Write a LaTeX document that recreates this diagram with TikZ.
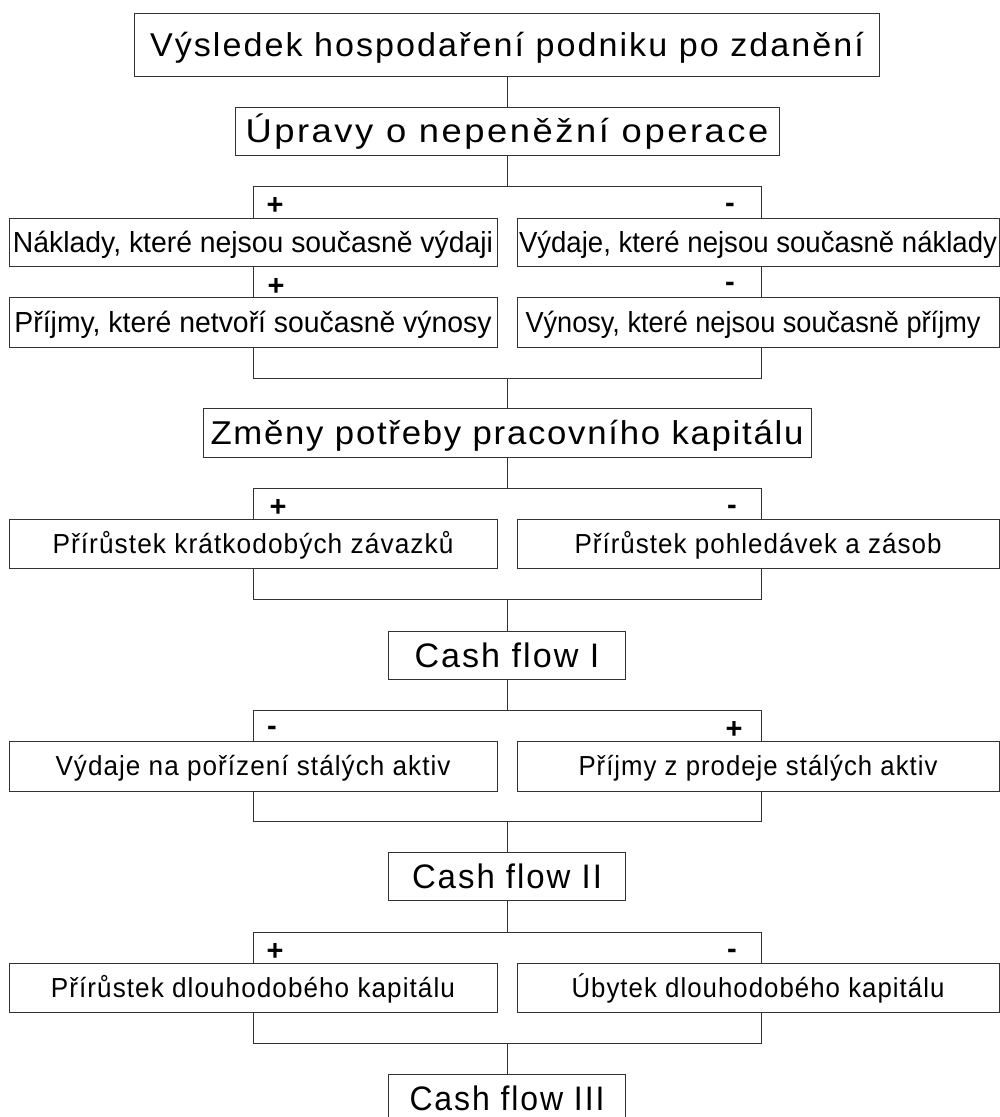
\documentclass[tikz,border=0pt]{standalone}
\usepackage{fontspec}
\usepackage{graphicx}
\setmainfont{Liberation Sans}
\newlength\natw
% letter-space (#2, per cent of em) then stretch horizontally to width #1 (px)
\newcommand\fitx[3]{{\addfontfeature{LetterSpace=#2}\settowidth\natw{#3}%
  \pgfmathsetmacro\fac{#1/\natw}\scalebox{\fac}[1]{#3}}}
\tikzset{
  linecol/.style={draw=black!80, line width=1pt},
  bigbox/.style={linecol, fill=white, inner sep=0pt, text=black,
    font=\fontsize{33}{40}\selectfont, text height=29.6pt, text depth=6pt},
  smallbox/.style={linecol, fill=white, inner sep=0pt, text=black,
    font=\fontsize{27.5}{32}\selectfont, text height=24.4pt, text depth=4.7pt,
    minimum height=49pt},
  firstbox/.style={smallbox, font=\fontsize{29}{34}\selectfont,
    text height=25.5pt, text depth=4.7pt},
  leftbox/.style={minimum width=488pt},
  rightbox/.style={minimum width=482pt},
  bracket/.style={linecol, inner sep=0pt, minimum width=508pt},
  cfbox/.style={bigbox, font=\fontsize{34}{40}\selectfont, text height=30.3pt,
    text depth=6pt, minimum width=237pt, minimum height=48pt},
  sign/.style={inner sep=0pt, anchor=base, text=black, font=\fontsize{29}{34}\selectfont\bfseries},
  link/.style={linecol}
}
\begin{document}
\begin{tikzpicture}[x=1pt,y=-1pt]
\fill[white] (0,0) rectangle (1000,1117);
\useasboundingbox (0,0) rectangle (1000,1117);

% bracket frames
\node[bracket, minimum height=192pt] (br1) at (507,282) {};
\node[bracket, minimum height=111pt] (br2) at (507,543.5) {};
\node[bracket, minimum height=111pt] (br3) at (507,765.5) {};
\node[bracket, minimum height=111pt] (br4) at (507,987.5) {};

% main column
\node[bigbox, minimum width=745pt, minimum height=63pt] (top) at (507,44.5)
  {\fitx{714}{6}{Výsledek hospodaření podniku po zdanění}};
\node[bigbox, minimum width=544pt, minimum height=48pt] (up) at (507,131)
  {\fitx{523}{7}{Úpravy o nepeněžní operace}};
\node[bigbox, minimum width=608pt, minimum height=49pt] (zm) at (507,432.5)
  {\fitx{593}{5}{Změny potřeby pracovního kapitálu}};
\node[cfbox] (cf1) at (507,655) {\fitx{185}{6}{Cash flow I}};
\node[cfbox] (cf2) at (507,876.5) {\fitx{190}{6}{Cash flow II}};
\node[cfbox] (cf3) at (507,1098) {\fitx{195}{6}{Cash flow III}};

% group 1
\node[firstbox, leftbox, minimum height=48pt] (n1) at (253,242)
  {\fitx{480}{0}{Náklady, které nejsou současně výdaji}};
\node[firstbox, leftbox, minimum height=50pt] (n2) at (253,322)
  {\fitx{477}{0}{Příjmy, které netvoří současně výnosy}};
\node[firstbox, rightbox, minimum height=48pt] (v1) at (758,242)
  {\fitx{478}{0}{Výdaje, které nejsou současně náklady}};
\node[firstbox, rightbox, minimum height=50pt] (v2) at (758,322)
  {\hspace*{-10pt}\fitx{455}{0}{Výnosy, které nejsou současně příjmy}};
\node[sign] (s1a) at (275,214) {+};
\node[sign] (s1b) at (276,295) {+};
\node[sign] (s1c) at (730,212) {-};
\node[sign] (s1d) at (730,291) {-};

% group 2
\node[smallbox, leftbox] (p2l) at (253,543.5) {\fitx{401}{4}{Přírůstek krátkodobých závazků}};
\node[smallbox, rightbox] (p2r) at (758,543.5) {\fitx{367}{4}{Přírůstek pohledávek a zásob}};
\node[sign] (s2a) at (278,516) {+};
\node[sign] (s2b) at (732,514) {-};

% group 3
\node[smallbox, leftbox, minimum height=50pt] (p3l) at (253,766) {\fitx{395}{4}{Výdaje na pořízení stálých aktiv}};
\node[smallbox, rightbox, minimum height=50pt] (p3r) at (758,766) {\fitx{359}{4}{Příjmy z prodeje stálých aktiv}};
\node[sign] (s3a) at (272,735) {-};
\node[sign] (s3b) at (734,738) {+};

% group 4
\node[smallbox, leftbox] (p4l) at (253,987.5) {\fitx{404}{4}{Přírůstek dlouhodobého kapitálu}};
\node[smallbox, rightbox] (p4r) at (758,987.5) {\fitx{373}{4}{Úbytek dlouhodobého kapitálu}};
\node[sign] (s4a) at (275,960) {+};
\node[sign] (s4b) at (732,958) {-};

% connectors
\draw[link] (top.south) -- (up.north);
\draw[link] (up.south) -- (br1.north);
\draw[link] (br1.south) -- (zm.north);
\draw[link] (zm.south) -- (br2.north);
\draw[link] (br2.south) -- (cf1.north);
\draw[link] (cf1.south) -- (br3.north);
\draw[link] (br3.south) -- (cf2.north);
\draw[link] (cf2.south) -- (br4.north);
\draw[link] (br4.south) -- (cf3.north);
\end{tikzpicture}
\end{document}
